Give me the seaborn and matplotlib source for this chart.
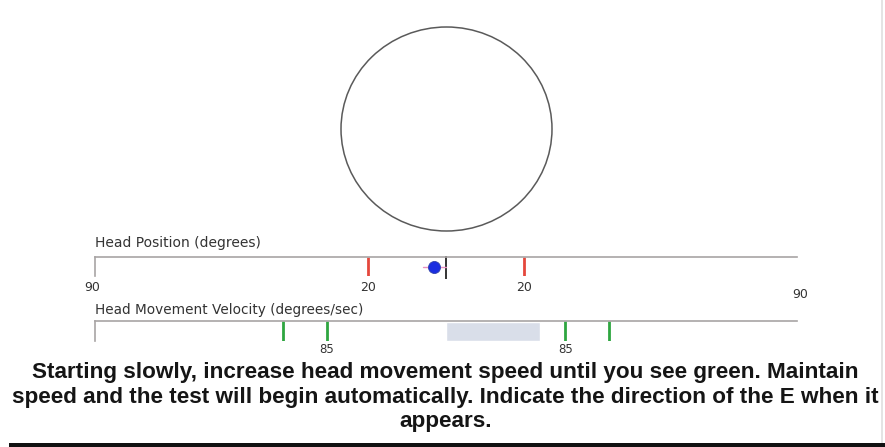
import matplotlib
matplotlib.use("Agg")
import matplotlib.pyplot as plt
from matplotlib.patches import Ellipse, Rectangle
import seaborn as sns
import pandas as pd

# head position scale (degrees)
pos_range = [-90, 90]
pos_limits = [-20, 20]
pos_labels = ["90", "20", "20", "90"]
pos_label_at = [-90.8, -20, 20, 90.8]
head_pos = -3.0
centre_pos = 0.0

# head velocity scale (degrees/sec)
vel_range = [-250, 250]
vel_marks = [-116, -85, 85, 116]
vel_labels = ["85", "85"]
vel_label_at = [-85, 85]
head_vel = 67.0

message = ("Starting slowly, increase head movement speed until you see green. Maintain\n"
           "speed and the test will begin automatically. Indicate the direction of the E when it\n"
           "appears.")

W, H = 885, 447


def box(l, t, r, b):
    return [l / W, 1 - b / H, (r - l) / W, (b - t) / H]


def strip_axes(ax, xlim):
    ax.set_xlim(*xlim)
    ax.set_ylim(0, 1)
    ax.set_xticks([])
    ax.set_yticks([])
    ax.set_facecolor("none")
    for side in ["bottom", "right"]:
        ax.spines[side].set_visible(False)
    for side in ["top", "left"]:
        ax.spines[side].set_visible(True)
        ax.spines[side].set_color("#a8a4a4")
        ax.spines[side].set_linewidth(1.2)


sns.set_theme(style="white")
plt.rcParams["font.family"] = ["DejaVu Sans"]

fig = plt.figure(figsize=(W / 100, H / 100), dpi=100)
fig.patch.set_facecolor("white")

# target circle
ax_c = fig.add_axes(box(341, 27, 552, 231))
ax_c.set_axis_off()
ax_c.add_patch(Ellipse((0.5, 0.5), 1, 1, transform=ax_c.transAxes,
                       fill=False, edgecolor="#5a5a5a", lw=1.1, clip_on=False))

# head position
ax_p = fig.add_axes(box(95, 257, 797, 276))
strip_axes(ax_p, pos_range)
ax_p.vlines(pos_limits, 0, 1, color="#e5473c", lw=2)
ax_p.vlines([centre_pos], -0.15, 1.05, color="#333333", lw=1.4, clip_on=False)
ax_p.plot([head_pos - 3, head_pos + 3], [0.47, 0.47], color="#e890c0", lw=1)
sns.scatterplot(x=[head_pos], y=[0.47], ax=ax_p, s=75, color="#1a2ee0",
                edgecolor="#3344aa", linewidth=0.6, zorder=5, clip_on=False)
tf = ax_p.get_xaxis_transform()
for x, lab in zip(pos_label_at, pos_labels):
    yy = -1.0 if x > 80 else -0.63
    ax_p.text(x, yy, lab, transform=tf, ha="center", va="center",
              fontsize=9, color="#333333")
ax_p.text(0, 1.75, "Head Position (degrees)", transform=ax_p.transAxes,
          ha="left", va="center", fontsize=10, color="#333333")

# head velocity
ax_v = fig.add_axes(box(95, 321, 797, 341))
strip_axes(ax_v, vel_range)
ax_v.barh([0.5], [head_vel], left=0, height=0.95, color="#d9dee9")
ax_v.vlines(vel_marks, 0, 1, color="#2ea640", lw=2)
tf = ax_v.get_xaxis_transform()
for x, lab in zip(vel_label_at, vel_labels):
    ax_v.text(x, -0.42, lab, transform=tf, ha="center", va="center",
              fontsize=8.5, color="#333333")
ax_v.text(0, 1.55, "Head Movement Velocity (degrees/sec)", transform=ax_v.transAxes,
          ha="left", va="center", fontsize=9.8, color="#333333")

# instructions
fig.text(0.503, 1 - 397 / H, message, ha="center", va="center",
         fontsize=16.2, fontweight="bold", color="#151515",
         family=["Liberation Sans", "DejaVu Sans"], linespacing=1.24)

# dark frame edge at the bottom, faint edge on the right
fig.add_artist(Rectangle((9 / W, 0), 1, 4.5 / H, transform=fig.transFigure,
                         facecolor="#111111", edgecolor="none"))
fig.add_artist(Rectangle((881 / W, 4.5 / H), 1.5 / W, 1, transform=fig.transFigure,
                         facecolor="#e4e4e4", edgecolor="none"))

fig.savefig("out.png", dpi=100)
